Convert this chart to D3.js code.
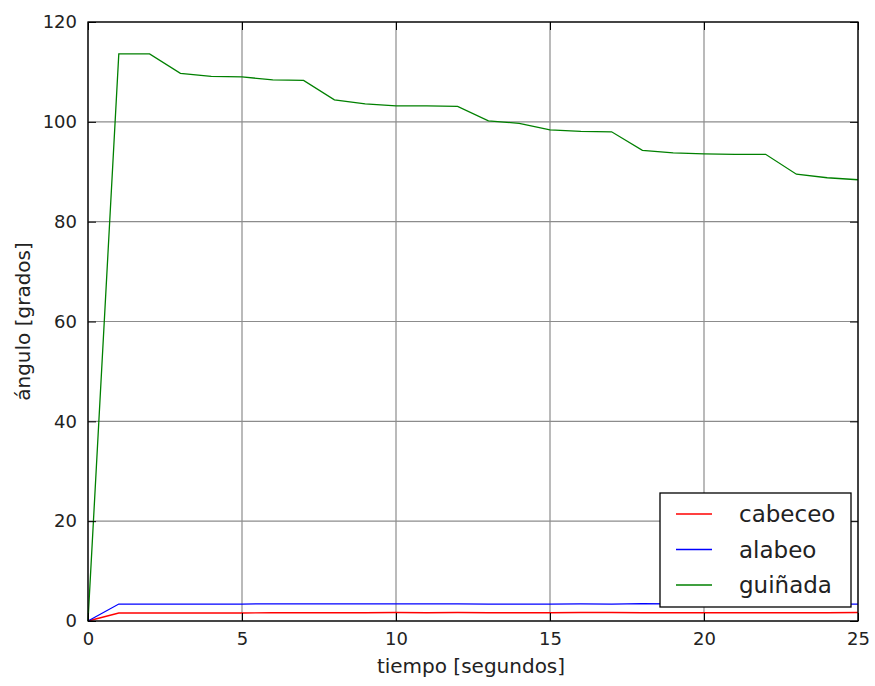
<!DOCTYPE html>
<html>
<head>
<meta charset="utf-8">
<script src="https://cdn.jsdelivr.net/npm/d3@7"></script>
<style>
body { margin: 0; background: #fff; }
svg { display: block; font-family: "DejaVu Sans", sans-serif; }
</style>
</head>
<body>
<svg id="chart" width="875" height="686"></svg>
<script>
const tiempo = [0,1,2,3,4,5,6,7,8,9,10,11,12,13,14,15,16,17,18,19,20,21,22,23,24,25];
const cabeceo = [0,1.6,1.6,1.6,1.6,1.6,1.65,1.65,1.65,1.65,1.7,1.65,1.7,1.65,1.65,1.65,1.7,1.7,1.65,1.65,1.65,1.65,1.65,1.65,1.65,1.7];
const alabeo = [0,3.4,3.4,3.4,3.4,3.4,3.45,3.45,3.45,3.45,3.45,3.45,3.45,3.4,3.4,3.4,3.45,3.4,3.5,3.45,3.4,3.4,3.4,3.4,3.4,3.4];
const guinada = [0,113.6,113.6,109.7,109.1,109.0,108.4,108.3,104.4,103.6,103.2,103.2,103.1,100.2,99.7,98.4,98.1,98.0,94.3,93.8,93.6,93.5,93.5,89.5,88.8,88.4];
const xTicks = [0,5,10,15,20,25];
const yTicks = [0,20,40,60,80,100,120];
const seriesNames = ["cabeceo","alabeo","guiñada"];
const seriesColors = ["#ff0000","#0000ff","#008000"];
const seriesData = [cabeceo, alabeo, guinada];

const svg = d3.select("#chart");
const L = 88, R = 858, T = 22, B = 621;
const x = d3.scaleLinear().domain([0,25]).range([L,R]);
const y = d3.scaleLinear().domain([0,120]).range([B,T]);

// grid
const grid = svg.append("g");
grid.selectAll("line.gx").data(xTicks).join("line")
  .attr("x1", d=>x(d)).attr("x2", d=>x(d)).attr("y1", T).attr("y2", B)
  .attr("stroke", "#8c8c8c").attr("stroke-width", 1.2);
grid.selectAll("line.gy").data(yTicks).join("line")
  .attr("y1", d=>y(d)).attr("y2", d=>y(d)).attr("x1", L).attr("x2", R)
  .attr("stroke", "#8c8c8c").attr("stroke-width", 1.2);

// lines
const line = d3.line().x((d,i)=>x(tiempo[i])).y(d=>y(d));
seriesData.forEach((s,k)=>{
  svg.append("path").datum(s).attr("d", line)
    .attr("fill","none").attr("stroke", seriesColors[k]).attr("stroke-width", 1.3);
});

// axes (ticks inward)
const ax = svg.append("g").attr("transform", `translate(0,${B})`)
  .call(d3.axisBottom(x).tickValues(xTicks).tickSize(-8).tickPadding(11).tickFormat(d3.format("d")));
const axTop = svg.append("g").attr("transform", `translate(0,${T})`)
  .call(d3.axisTop(x).tickValues(xTicks).tickSize(-8).tickFormat(""));
const ay = svg.append("g").attr("transform", `translate(${L},0)`)
  .call(d3.axisLeft(y).tickValues(yTicks).tickSize(-8).tickPadding(11).tickFormat(d3.format("d")));
const ayR = svg.append("g").attr("transform", `translate(${R},0)`)
  .call(d3.axisRight(y).tickValues(yTicks).tickSize(-8).tickFormat(""));
[ax, axTop, ay, ayR].forEach(g=>{
  g.select(".domain").remove();
  g.selectAll(".tick line").attr("stroke","#000").attr("stroke-width",1);
  g.selectAll("text").attr("font-size", 18).attr("fill","#222").attr("font-family", "DejaVu Sans");
});

// frame
svg.append("rect").attr("x", L).attr("y", T).attr("width", R-L).attr("height", B-T)
  .attr("fill","none").attr("stroke","#000").attr("stroke-width",1.3);

// axis labels
svg.append("text").attr("x", (L+R)/2 - 2).attr("y", 673).attr("text-anchor","middle")
  .attr("font-size", 20).attr("fill","#222").text("tiempo [segundos]");
svg.append("text").attr("transform", `translate(30,${(T+B)/2}) rotate(-90)`).attr("text-anchor","middle")
  .attr("font-size", 20).attr("fill","#222").text("ángulo [grados]");

// legend
const lg = svg.append("g");
lg.append("rect").attr("x", 660).attr("y", 493).attr("width", 191).attr("height", 114)
  .attr("fill","#fff").attr("stroke","#000").attr("stroke-width",1.3);
seriesNames.forEach((n,k)=>{
  const yy = 514 + k*35.5;
  lg.append("line").attr("x1", 676).attr("x2", 712).attr("y1", yy).attr("y2", yy)
    .attr("stroke", seriesColors[k]).attr("stroke-width", 1.3);
  lg.append("text").attr("x", 739).attr("y", yy).attr("dy","0.35em")
    .attr("font-size", 23).attr("fill","#222").text(n);
});
</script>
</body>
</html>
